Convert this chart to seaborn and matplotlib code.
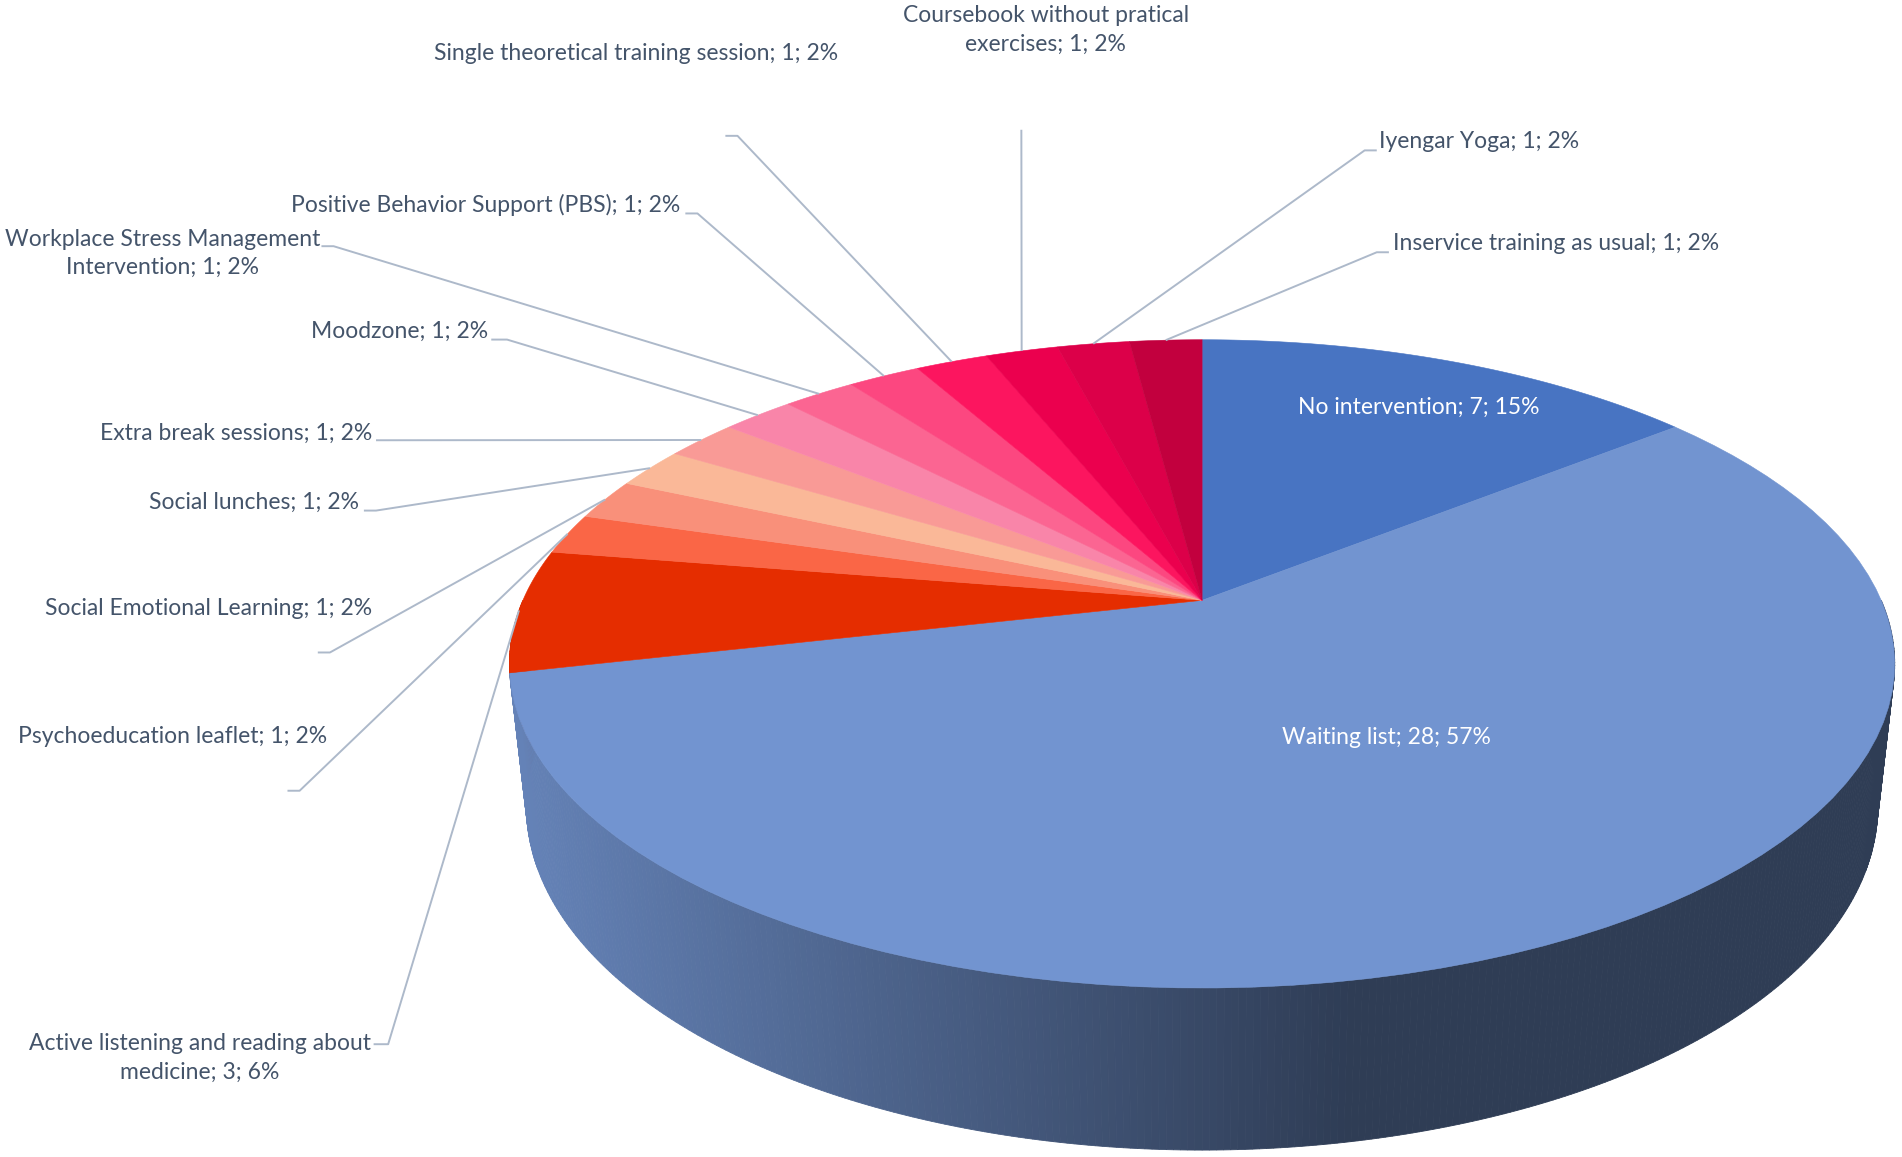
import numpy as np
import matplotlib
matplotlib.use("Agg")
import matplotlib.pyplot as plt
from matplotlib.patches import Polygon
import seaborn as sns

# Data
names = [
    "No intervention", "Waiting list", "Active listening and reading about medicine",
    "Psychoeducation leaflet", "Social Emotional Learning", "Social lunches",
    "Extra break sessions", "Moodzone", "Workplace Stress Management Intervention",
    "Positive Behavior Support (PBS)", "Single theoretical training session",
    "Coursebook without pratical exercises", "Iyengar Yoga", "Inservice training as usual",
]
counts = [7, 28, 3, 1, 1, 1, 1, 1, 1, 1, 1, 1, 1, 1]
percents = [15, 57, 6, 2, 2, 2, 2, 2, 2, 2, 2, 2, 2, 2]
colors = ["#4874C2", "#7294D0", "#E52D00", "#FA6646", "#F9907A", "#FAB898", "#F99A96",
          "#F985A9", "#FB6592", "#FC4780", "#FC155F", "#EB004E", "#DC0049", "#C2003E"]

# Layout (reference pixel space 1568 x 954)
# text x, text y, ha, stub start x, stub end x, stub y, line break after
label_layout = [
    (1170, 336, "center", None, None, None, None),
    (1143, 608, "center", None, None, None, None),
    (165, 872, "center", 308, 320, 861, "about"),
    (270, 607, "right", 237, 247, 652, None),
    (307, 502, "right", 262, 272, 538, None),
    (296, 414, "right", 300, 310, 421, None),
    (307, 357, "right", 310, 320, 363, None),
    (402, 273, "right", 405, 418, 280, None),
    (134, 209, "center", 265, 275, 203, "Management"),
    (561, 169, "right", 565, 575, 176, None),
    (524, 44, "center", 598, 608, 112, None),
    (862, 25, "center", 842, 842, 107, "pratical"),
    (1137, 117, "left", 1135, 1125, 124, None),
    (1148, 201, "left", 1145, 1135, 208, None),
]

# 3D pie projection
CX, CY = 991, 495
RAD = 0.2207
SA = 0.459
CA = np.sqrt(1 - SA ** 2)
FOC = 2537
HGT = 0.0525


def project(theta, z=0.0):
    X = RAD * np.sin(theta)
    Y = RAD * np.cos(theta)
    vert = Y * SA + z * CA
    depth = 1 + Y * CA - z * SA
    return CX + FOC * X / depth, CY - FOC * vert / depth, depth


def shade(x):
    return np.interp(x, [420, 740, 1110, 1570], [0.89, 0.66, 0.41, 0.41])


sns.set_theme(style="white")
plt.rcParams["font.family"] = ["Lato", "DejaVu Sans"]

fig = plt.figure(figsize=(19.02, 11.57), dpi=100)
ax = fig.add_axes([0, 0, 1, 1])
ax.set_xlim(0, 1568)
ax.set_ylim(954, 0)
ax.axis("off")

total = sum(counts)
bounds = np.concatenate([[0], np.cumsum(counts)]) / total * 2 * np.pi

# side of the cylinder (front half), far strips first
grid = np.linspace(np.pi / 2, 3 * np.pi / 2, 361)
strips = []
for t0, t1 in zip(grid[:-1], grid[1:]):
    tm = (t0 + t1) / 2
    idx = np.searchsorted(bounds, tm) - 1
    xa, ya, _ = project(t0)
    xb, yb, _ = project(t1)
    xc, yc, _ = project(t1, -HGT)
    xd, yd, _ = project(t0, -HGT)
    xm, _, dm = project(tm, -HGT / 2)
    base = np.array(matplotlib.colors.to_rgb(colors[idx]))
    col = np.clip(base * shade(xm), 0, 1)
    strips.append((dm, [(xa, ya), (xb, yb), (xc, yc), (xd, yd)], col))
for dm, pts, col in sorted(strips, key=lambda s: -s[0]):
    ax.add_patch(Polygon(pts, closed=True, facecolor=col, edgecolor=col, lw=0.6))

# top face
for i in range(len(counts)):
    ts = np.linspace(bounds[i], bounds[i + 1], 80)
    xs, ys, _ = project(ts)
    pts = [(CX, CY)] + list(zip(xs, ys))
    ax.add_patch(Polygon(pts, closed=True, facecolor=colors[i], edgecolor=colors[i], lw=0.4))

# labels and leader lines
line_col = "#ADB9CA"
for i, (name, c, p) in enumerate(zip(names, counts, percents)):
    tx, ty, ha, sa, sb, sy, brk = label_layout[i]
    text = f"{name}; {c}; {p}%"
    if brk:
        text = text.replace(brk + " ", brk + "\n", 1)
    inside = sa is None
    ax.text(tx, ty, text, ha=ha, va="center", fontsize=16.5, linespacing=1.45,
            color="white" if inside else "#44546A", multialignment="center")
    if not inside:
        tm = (bounds[i] + bounds[i + 1]) / 2
        rx, ry, _ = project(tm)
        ax.plot([sa, sb, rx], [sy, sy, ry], color=line_col, lw=1.4, solid_capstyle="butt")

fig.savefig("out.png", dpi=100, facecolor="white")
